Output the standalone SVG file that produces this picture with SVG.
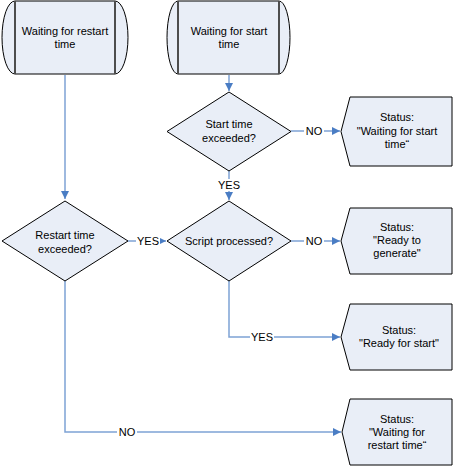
<svg xmlns="http://www.w3.org/2000/svg" width="454" height="467" viewBox="0 0 454 467">
<defs>
<style>
.shape{fill:#E9EEF7;stroke:#000;stroke-width:1}
.bar{stroke:#4D4D4D;stroke-width:2}
text{font-family:"Liberation Sans",Arial,sans-serif;font-size:11px;fill:#000;text-anchor:middle}
.conn{fill:none;stroke:#7EA2D5;stroke-width:1.5}
.lbl{fill:#fff}
</style>
<marker id="ah" viewBox="0 0 8 8" refX="8" refY="4" markerWidth="8" markerHeight="8" markerUnits="userSpaceOnUse" orient="auto">
<path d="M0,0 L8,4 L0,8 Z" fill="#4A7DC4"/>
</marker>
</defs>
<rect width="454" height="467" fill="#fff"/>

<g id="connectors">
<path class="conn" d="M65,75 V199" marker-end="url(#ah)"/>
<path class="conn" d="M229,75 V91" marker-end="url(#ah)"/>
<path class="conn" d="M291,131 H340" marker-end="url(#ah)"/>
<path class="conn" d="M229,171 V200" marker-end="url(#ah)"/>
<path class="conn" d="M128,241 H166" marker-end="url(#ah)"/>
<path class="conn" d="M291,241 H340" marker-end="url(#ah)"/>
<path class="conn" d="M229,281 V337 H340" marker-end="url(#ah)"/>
<path class="conn" d="M65,281 V432 H341" marker-end="url(#ah)"/>
<rect class="lbl" x="304" y="125" width="20" height="12"/>
<text x="314" y="135">NO</text>
<rect class="lbl" x="217" y="179" width="24" height="12"/>
<text x="229" y="189">YES</text>
<rect class="lbl" x="136" y="235" width="24" height="12"/>
<text x="148" y="245">YES</text>
<rect class="lbl" x="304" y="235" width="20" height="12"/>
<text x="314" y="245">NO</text>
<rect class="lbl" x="250" y="331" width="24" height="12"/>
<text x="262" y="341">YES</text>
<rect class="lbl" x="117" y="426" width="20" height="12"/>
<text x="127" y="436">NO</text>
</g>

<g id="wait-restart">
<path class="shape" d="M15,1 H115 A13,36.5 0 0 1 115,74 H15 A13,36.5 0 0 1 15,1 Z"/>
<line class="bar" x1="15" y1="1" x2="15" y2="74"/>
<line class="bar" x1="115" y1="1" x2="115" y2="74"/>
<text x="65" y="35">Waiting for restart</text>
<text x="65" y="48">time</text>
</g>

<g id="wait-start">
<path class="shape" d="M178,1 H279 A11,36.5 0 0 1 279,74 H178 A11,36.5 0 0 1 178,1 Z"/>
<line class="bar" x1="178" y1="1" x2="178" y2="74"/>
<line class="bar" x1="279" y1="1" x2="279" y2="74"/>
<text x="229" y="35">Waiting for start</text>
<text x="229" y="48">time</text>
</g>

<g id="start-exceeded">
<path class="shape" d="M229,92 L291,131.5 L229,171 L167,131.5 Z"/>
<text x="229" y="128">Start time</text>
<text x="229" y="142">exceeded?</text>
</g>

<g id="script-processed">
<path class="shape" d="M229,201 L291,241 L229,281 L167,241 Z"/>
<text x="229" y="245">Script processed?</text>
</g>

<g id="restart-exceeded">
<path class="shape" d="M65,201 L128,241 L65,281 L2,241 Z"/>
<text x="65" y="239">Restart time</text>
<text x="65" y="253">exceeded?</text>
</g>

<g id="status-wait-start">
<path class="shape" d="M350,97 H452 V166 H350 L341,131.5 Z"/>
<text x="397" y="121">Status:</text>
<text x="397" y="135">"Waiting for start</text>
<text x="397" y="148">time“</text>
</g>

<g id="status-ready-generate">
<path class="shape" d="M350,208 H452 V274 H350 L341,241 Z"/>
<text x="397" y="231">Status:</text>
<text x="397" y="244">"Ready to</text>
<text x="397" y="257">generate"</text>
</g>

<g id="status-ready-start">
<path class="shape" d="M350,304 H452 V370 H350 L341,337 Z"/>
<text x="399" y="334">Status:</text>
<text x="399" y="347">"Ready for start"</text>
</g>

<g id="status-wait-restart">
<path class="shape" d="M350,399 H452 V465 H350 L342,432 Z"/>
<text x="397" y="423">Status:</text>
<text x="397" y="436">"Waiting for</text>
<text x="397" y="449">restart time“</text>
</g>
</svg>
